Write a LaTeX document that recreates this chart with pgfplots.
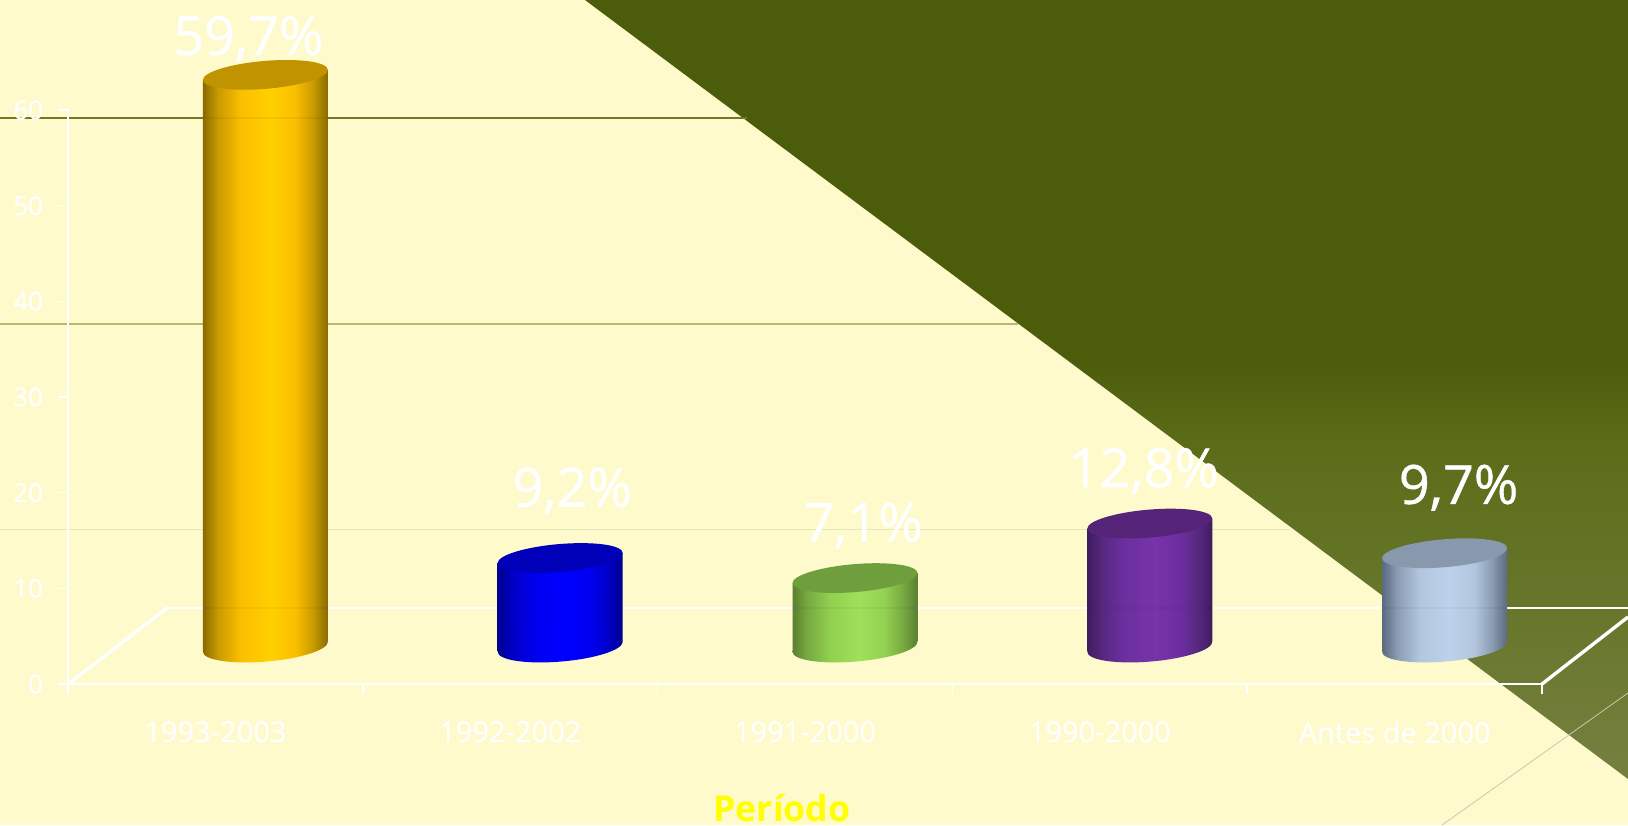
\documentclass[border=0pt]{standalone}
\usepackage{fontspec}
\usepackage{pgfplots}
\pgfplotsset{compat=1.18}
\setmainfont{Open Sans}
\newfontfamily\heavy[FakeBold=0.8]{Open Sans}
\newfontfamily\semi[FakeBold=0.25]{Open Sans}

% 1 reference pixel = 0.5pt
\definecolor{paper}{HTML}{FEFACB}

\pgfdeclareverticalshading{wedge}{100bp}{rgb(0bp)=(0.459,0.502,0.247); rgb(25bp)=(0.459,0.502,0.247); rgb(43bp)=(0.373,0.439,0.122); rgb(47bp)=(0.353,0.42,0.094); rgb(52bp)=(0.294,0.361,0.043); rgb(75bp)=(0.294,0.361,0.043); rgb(100bp)=(0.294,0.361,0.043)}

% name, then five colours as r,g,b: edge, shoulder, mid, centre, top face
\newcommand\defcyl[6]{%
  \definecolor{#1t}{rgb}{#6}%
  \pgfdeclarehorizontalshading{#1}{100bp}{rgb(0bp)=(#2); rgb(25bp)=(#2); rgb(31bp)=(#3); rgb(40bp)=(#4); rgb(52bp)=(#5); rgb(62bp)=(#4); rgb(69bp)=(#3); rgb(75bp)=(#2); rgb(100bp)=(#2)}%
  \pgfdeclareplotmark{#1base}{%
    \pgfpathellipse{\pgfqpoint{0pt}{-0.4pt}}{\pgfqpoint{31.25pt}{2.5pt}}{\pgfqpoint{0pt}{7.4pt}}%
    \pgfshadepath{#1}{0}\pgfusepath{discard}}%
  \pgfdeclareplotmark{#1top}{%
    \pgfsetfillcolor{#1t}%
    \pgfpathellipse{\pgfpointorigin}{\pgfqpoint{31.25pt}{2.5pt}}{\pgfqpoint{0pt}{7pt}}%
    \pgfusepath{fill}}%
}
\defcyl{cyla}{0.54,0.415,0}{0.784,0.608,0}{0.984,0.745,0}{1,0.816,0}{0.753,0.58,0}
\defcyl{cylb}{0,0,0.565}{0,0,0.784}{0,0,0.94}{0,0,1}{0,0,0.72}
\defcyl{cylc}{0.353,0.5,0.188}{0.47,0.667,0.259}{0.573,0.816,0.314}{0.624,0.878,0.353}{0.435,0.624,0.235}
\defcyl{cyld}{0.243,0.11,0.376}{0.345,0.157,0.5}{0.424,0.184,0.627}{0.467,0.2,0.659}{0.333,0.141,0.47}
\defcyl{cyle}{0.353,0.416,0.5}{0.541,0.612,0.698}{0.698,0.776,0.871}{0.741,0.824,0.918}{0.533,0.6,0.682}

% category, value, shading, xshift and yshift of the label, compensation of the slant
\newcommand\cyl[6]{%
  \addplot[only marks, mark=#3base] coordinates {(#1,0)};
  \addplot[ybar, bar width=62.5pt, bar shift=0pt, draw=none, shade, shading=#3,
    yshift=#6, yslant=0.08] coordinates {(#1,#2)};
  \addplot[only marks, mark=#3top, point meta=y,
    nodes near coords={\pgfmathprintnumber\pgfplotspointmeta\%},
    every node near coord/.style={anchor=base, text=white, font=\heavy\fontsize{27pt}{30pt}\selectfont, xshift=#4, yshift=#5},
    /pgf/number format/.cd, assume math mode=true, use comma, fixed, fixed zerofill, precision=1]
    coordinates {(#1,#2)};
}

\begin{document}
\begin{tikzpicture}[x=0.5pt,y=-0.5pt]
\useasboundingbox (0,0) rectangle (1628,825);
\clip (0,0) rectangle (1628,825);
\fill[paper] (0,0) rectangle (1628,825);
\path[shading=wedge, shade] (585,0) -- (1628,0) -- (1628,779) -- cycle;

\draw[line width=0.6pt, color={rgb,255:red,110;green,122;blue,40}] (0,118) -- (747,118);
\draw[line width=0.6pt, color={rgb,255:red,181;green,186;blue,112}] (0,324) -- (1018,324);
\draw[line width=0.5pt, color={rgb,255:red,232;green,230;blue,188}] (0,529) -- (1290,529);
\draw[line width=0.4pt, color={rgb,255:red,200;green,200;blue,176}] (1442,825) -- (1628,693);

% floor of the 3D box
\draw[white, line width=1.1pt] (167,608) -- (1628,608);
\draw[white, line width=1.7pt] (68,684) -- (167,608);
\draw[white, line width=1.7pt] (1542,684) -- (1628,617);

\begin{axis}[
  at={(34pt,-342pt)}, anchor=south west,
  scale only axis, width=737pt, height=287pt,
  xmin=-0.5, xmax=4.5, ymin=0, ymax=60,
  axis x line=bottom, axis y line=left,
  axis line style={white, line width=1.1pt, -},
  xtick={0,1,2,3,4},
  xticklabels={1993-2003,1992-2002,1991-2000,1990-2000,Antes de 2000},
  minor xtick={-0.5,0.5,1.5,2.5,3.5,4.5},
  ytick={0,10,20,30,40,50,60},
  tick align=outside,
  major x tick style={draw=none},
  minor x tick style={white, line width=0.8pt},
  minor tick length=5pt,
  major tick length=5pt,
  y tick style={white, line width=0.8pt},
  tick label style={text=white},
  xticklabel style={font=\semi\fontsize{14.5pt}{16pt}\selectfont, yshift=-10pt},
  yticklabel style={font=\semi\fontsize{13pt}{15pt}\selectfont, xshift=-4pt},
  /pgf/number format/assume math mode=true,
  clip=false,
]
\end{axis}

\begin{axis}[
  at={(59pt,-323pt)}, anchor=south west,
  scale only axis, width=737pt, height=287pt,
  xmin=-0.5, xmax=4.5, ymin=0, ymax=60,
  hide axis, clip=false,
]
\cyl{0}{59.7}{cyla}{-8.5pt}{10pt}{-5.896pt}
\cyl{1}{9.2}{cylb}{6pt}{25.7pt}{-17.688pt}
\cyl{2}{7.1}{cylc}{4pt}{18.2pt}{-29.48pt}
\cyl{3}{12.8}{cyld}{-3pt}{18.2pt}{-41.272pt}
\cyl{4}{9.7}{cyle}{7pt}{24.7pt}{-53.064pt}
\end{axis}

% the floor and the top rule show faintly through the cylinders
\foreach \bx in {203,498,793,1088,1382}
  \draw[black, opacity=0.04, line width=0.7pt] (\bx,608) -- ++(125,0);
\draw[black, opacity=0.05, line width=0.6pt] (203,118) -- (328,118);

\node[anchor=base, inner sep=0pt, text={rgb,255:red,255;green,255;blue,0}, font=\fontsize{17.8pt}{20pt}\selectfont\bfseries] at (782,821) {Período};
\end{tikzpicture}
\end{document}
